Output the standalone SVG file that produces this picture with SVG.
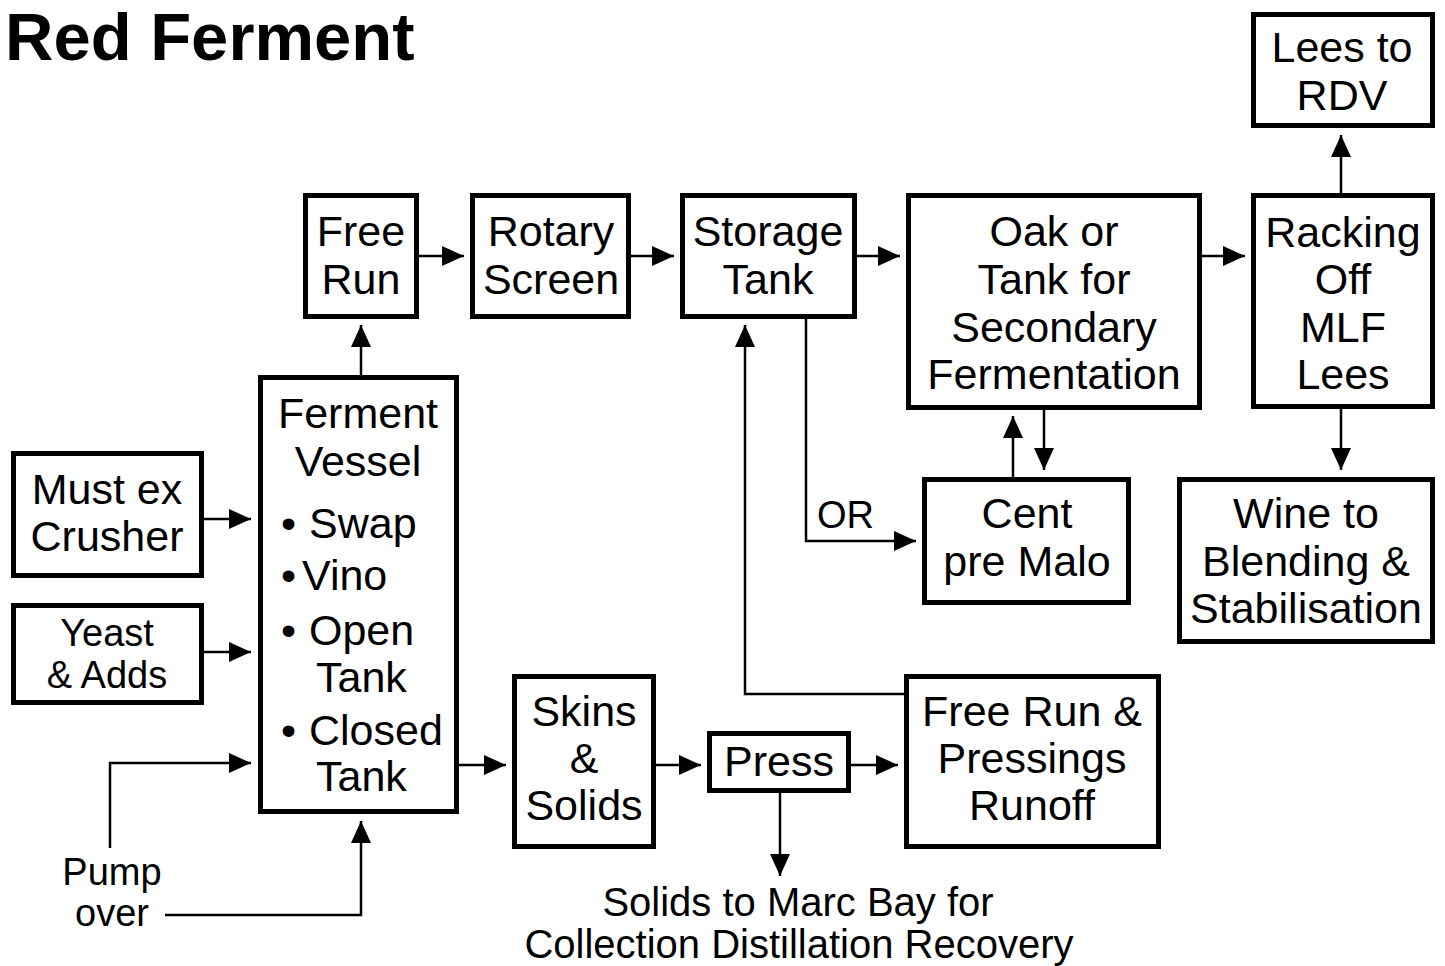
<svg xmlns="http://www.w3.org/2000/svg" width="1445" height="966" viewBox="0 0 1445 966">
<defs>
<style>
.box{fill:#fff;stroke:#000;stroke-width:5}
.t{font-family:"Liberation Sans",Arial,sans-serif;font-size:43px;fill:#000;text-anchor:middle}
.s{font-size:38px}
.b{font-size:40px}
.l{text-anchor:start}
.c{fill:none;stroke:#000;stroke-width:2.5;marker-end:url(#ah)}
</style>
<marker id="ah" markerUnits="userSpaceOnUse" markerWidth="24" markerHeight="22" refX="22" refY="10" orient="auto">
<path d="M0,0 L22,10 L0,20 z" fill="#000"/>
</marker>
</defs>
<rect width="1445" height="966" fill="#fff"/>
<text x="5" y="60" style="font-family:'Liberation Sans',Arial,sans-serif;font-weight:bold;font-size:67px">Red Ferment</text>

<g id="connectors">
<path class="c" d="M418,256 H464"/>
<path class="c" d="M630,256 H674"/>
<path class="c" d="M856,256 H900"/>
<path class="c" d="M1201,256 H1245"/>
<path class="c" d="M1341,193 V135"/>
<path class="c" d="M1341,408 V470"/>
<path class="c" d="M361,375 V325"/>
<path class="c" d="M203,519 H251"/>
<path class="c" d="M203,652 H251"/>
<path class="c" d="M110,848 V763 H251"/>
<path class="c" d="M165,915 H361 V821"/>
<path class="c" d="M458,765 H506"/>
<path class="c" d="M655,765 H701"/>
<path class="c" d="M850,765 H898"/>
<path class="c" d="M780,792 V876"/>
<path class="c" d="M904,694 H745 V325"/>
<path class="c" d="M806,318 V541 H916"/>
<path class="c" d="M1013,477 V416"/>
<path class="c" d="M1044,409 V470"/>
<text class="t s l" x="817" y="528">OR</text>
</g>

<g id="free-run">
<rect class="box" x="305.5" y="195.5" width="111" height="121"/>
<text class="t" x="361" y="246">Free</text>
<text class="t" x="361" y="294">Run</text>
</g>
<g id="rotary-screen">
<rect class="box" x="472.5" y="195.5" width="156" height="121"/>
<text class="t" x="551" y="246">Rotary</text>
<text class="t" x="551" y="294">Screen</text>
</g>
<g id="storage-tank">
<rect class="box" x="682.5" y="195.5" width="172" height="121"/>
<text class="t" x="768" y="246">Storage</text>
<text class="t" x="768" y="294">Tank</text>
</g>
<g id="oak-tank">
<rect class="box" x="908.5" y="195.5" width="291" height="212"/>
<text class="t" x="1054" y="246">Oak or</text>
<text class="t" x="1054" y="294">Tank for</text>
<text class="t" x="1054" y="342">Secondary</text>
<text class="t" x="1054" y="389">Fermentation</text>
</g>
<g id="racking">
<rect class="box" x="1253.5" y="195.5" width="179" height="211"/>
<text class="t" x="1343" y="247">Racking</text>
<text class="t" x="1343" y="294">Off</text>
<text class="t" x="1343" y="342">MLF</text>
<text class="t" x="1343" y="389">Lees</text>
</g>
<g id="lees-rdv">
<rect class="box" x="1253.5" y="14.5" width="179" height="111"/>
<text class="t" x="1342" y="62">Lees to</text>
<text class="t" x="1342" y="110">RDV</text>
</g>
<g id="must">
<rect class="box" x="13.5" y="453.5" width="188" height="122"/>
<text class="t" x="107" y="504">Must ex</text>
<text class="t" x="107" y="551">Crusher</text>
</g>
<g id="yeast">
<rect class="box" x="13.5" y="605.5" width="188" height="97"/>
<text class="t s" x="107" y="646">Yeast</text>
<text class="t s" x="107" y="688">&amp; Adds</text>
</g>
<g id="ferment-vessel">
<rect class="box" x="260.5" y="377.5" width="196" height="434"/>
<text class="t" x="358" y="428">Ferment</text>
<text class="t" x="358" y="476">Vessel</text>
<text class="t l" x="281" y="538">•</text><text class="t l" x="309" y="538">Swap</text>
<text class="t l" x="281" y="590">•</text><text class="t l" x="302" y="590">Vino</text>
<text class="t l" x="281" y="645">•</text><text class="t l" x="309" y="645">Open</text>
<text class="t l" x="316" y="692">Tank</text>
<text class="t l" x="281" y="745">•</text><text class="t l" x="309" y="745">Closed</text>
<text class="t l" x="316" y="791">Tank</text>
</g>
<g id="skins">
<rect class="box" x="514.5" y="676.5" width="139" height="170"/>
<text class="t" x="584" y="726">Skins</text>
<text class="t" x="584" y="773">&amp;</text>
<text class="t" x="584" y="820">Solids</text>
</g>
<g id="press">
<rect class="box" x="709.5" y="733.5" width="139" height="57"/>
<text class="t" x="779" y="776">Press</text>
</g>
<g id="free-run-pressings">
<rect class="box" x="906.5" y="676.5" width="252" height="170"/>
<text class="t" x="1032" y="726">Free Run &amp;</text>
<text class="t" x="1032" y="773">Pressings</text>
<text class="t" x="1032" y="820">Runoff</text>
</g>
<g id="cent">
<rect class="box" x="924.5" y="479.5" width="204" height="123"/>
<text class="t" x="1027" y="528">Cent</text>
<text class="t" x="1027" y="576">pre Malo</text>
</g>
<g id="wine">
<rect class="box" x="1179.5" y="479.5" width="253" height="162"/>
<text class="t" x="1306" y="528">Wine to</text>
<text class="t" x="1306" y="576">Blending &amp;</text>
<text class="t" x="1306" y="623">Stabilisation</text>
</g>
<g id="solids-marc">
<text class="t b" x="798" y="916">Solids to Marc Bay for</text>
<text class="t b" x="799" y="958">Collection Distillation Recovery</text>
</g>
<g id="pump-over">
<text class="t s" x="112" y="885">Pump</text>
<text class="t s" x="112" y="926">over</text>
</g>
</svg>
